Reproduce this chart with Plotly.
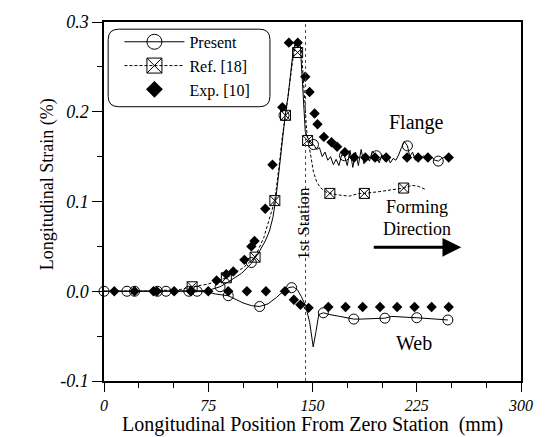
import plotly.graph_objects as go

FONT = "Liberation Serif, Times New Roman, serif"

# ---------------- data ----------------
# Present (FEM) - flange, line
present_flange_x = [-5.5, 0, 20, 40, 60, 70, 75, 80, 83.5, 90, 95, 99, 106, 112, 116, 119, 121.5,
                    123.6, 126, 128, 130.5, 132.5, 134.2, 136.1, 137.7, 139.5, 141.3, 142.5, 143.7,
                    144.8, 147.2, 150.7, 153, 155, 157, 159, 161, 163, 165, 167, 169, 171, 173, 175,
                    177, 179, 181, 183, 185, 187, 189, 191, 193, 196, 198, 200, 202, 204, 206, 208,
                    210, 212, 214, 216, 218.3, 220, 222, 224, 226, 228, 230, 233, 236, 238, 240.5,
                    243, 246, 249]
present_flange_y = [0, 0, 0, 0, 0, 0.0005, 0.001, 0.003, 0.005, 0.011, 0.016, 0.020, 0.031, 0.045,
                    0.056, 0.067, 0.082, 0.103, 0.135, 0.165, 0.198, 0.218, 0.240, 0.268, 0.277,
                    0.279, 0.272, 0.236, 0.200, 0.178, 0.169, 0.1635, 0.158, 0.160, 0.150, 0.155,
                    0.146, 0.150, 0.141, 0.147, 0.140, 0.152, 0.151, 0.140, 0.157, 0.138, 0.155,
                    0.140, 0.158, 0.142, 0.150, 0.145, 0.156, 0.151, 0.143, 0.152, 0.145, 0.150,
                    0.143, 0.148, 0.146, 0.152, 0.160, 0.167, 0.162, 0.150, 0.155, 0.146, 0.152,
                    0.148, 0.151, 0.146, 0.149, 0.146, 0.145, 0.148, 0.150, 0.149]
present_flange_mx = [-5.5, 16.5, 38.5, 61, 83.5, 106, 129.5, 150.7, 173, 196, 218.3, 240.5]
present_flange_my = [0, 0, 0, 0, 0.005, 0.032, 0.196, 0.1635, 0.151, 0.151, 0.162, 0.145]

# Present (FEM) - web, line
present_web_x = [0, 20, 40, 60, 67, 75, 80, 89.4, 95, 100, 106, 112, 118, 124, 129, 133, 136, 139,
                 142, 145, 148, 150.5, 152.5, 154.5, 157.8, 162.5, 169.6, 175, 179.7, 185, 190.8,
                 196, 202.1, 207, 212, 218, 225, 230, 235, 241, 247.4]
present_web_y = [0, 0, 0, 0, 0, -0.001, -0.003, -0.005, -0.009, -0.013, -0.016, -0.017, -0.014,
                 -0.007, 0.0, 0.004, 0.005, 0.002, -0.006, -0.016, -0.035, -0.062, -0.045, -0.026,
                 -0.024, -0.026, -0.028, -0.030, -0.031, -0.031, -0.0306, -0.030, -0.030, -0.028,
                 -0.0287, -0.029, -0.0295, -0.030, -0.031, -0.031, -0.032]
present_web_mx = [0, 22, 44.6, 67, 89.4, 112, 135, 157.8, 179.7, 202.1, 225, 247.4]
present_web_my = [0, 0, 0, 0, -0.005, -0.017, 0.004, -0.024, -0.031, -0.030, -0.0295, -0.032]

# Ref. [18] - flange
ref_x = [0, 30, 55, 63.4, 75, 88, 100, 108.7, 115, 120, 122.9, 126, 128.5, 130.6, 133, 136, 138,
         140, 142, 143.5, 144.5, 145.5, 146.5, 148.3, 150.7, 153, 155.4, 159, 162.5, 170, 176.6,
         183.5, 187.3, 198, 209, 215.6, 221.5, 226, 232]
ref_y = [0, 0, 0.002, 0.005, 0.008, 0.015, 0.026, 0.038, 0.060, 0.085, 0.101, 0.140, 0.175, 0.196,
         0.225, 0.260, 0.275, 0.278, 0.270, 0.240, 0.210, 0.185, 0.168, 0.155, 0.133, 0.122, 0.116,
         0.111, 0.109, 0.107, 0.106, 0.109, 0.109, 0.111, 0.113, 0.115, 0.118, 0.117, 0.113]
ref_mx = [63.4, 88, 108.7, 122.9, 130.6, 139.3, 146.5, 162.5, 187.3, 215.6]
ref_my = [0.005, 0.015, 0.038, 0.101, 0.196, 0.266, 0.168, 0.109, 0.109, 0.115]

# Exp. [10] - flange
exp_flange_x = [38, 81, 88, 93, 101, 106, 108.3, 116, 121.2, 128.3, 133, 139.4, 144.8, 147.9, 151.5,
                153.6, 158.2, 163.7, 167.7, 173.3, 180, 188, 195, 203, 218, 226, 233, 248]
exp_flange_y = [0, 0.012, 0.019, 0.022, 0.035, 0.050, 0.056, 0.092, 0.141, 0.205, 0.277, 0.277,
                0.239, 0.222, 0.198, 0.186, 0.172, 0.166, 0.161, 0.155, 0.149, 0.149, 0.149, 0.149,
                0.149, 0.149, 0.149, 0.149]

# Exp. [10] - web
exp_web_x = [7.4, 22, 35.6, 50.5, 62.5, 75, 89.4, 102.8, 116.5, 130.2, 136.6, 141.3, 147.2, 161.4,
             173.8, 186.1, 198.6, 210.9, 223.4, 235.7, 248]
exp_web_y = [0, 0, 0, 0, 0, 0, 0, 0, 0, 0, -0.0095, -0.015, -0.0185, -0.0175, -0.0175, -0.0175,
             -0.0175, -0.0175, -0.0175, -0.0175, -0.0175]

station_x = 145
x_ticks = [0, 75, 150, 225, 300]
y_ticks = [-0.1, 0.0, 0.1, 0.2, 0.3]
y_ticktext = ["-0.1", "0.0", "0.1", "0.2", "0.3"]

# ---------------- figure ----------------
fig = go.Figure()
blk = "black"

# lines
fig.add_trace(go.Scatter(x=ref_x, y=ref_y, mode="lines", showlegend=False,
                         line=dict(color=blk, width=1, dash="3px,2px")))
fig.add_trace(go.Scatter(x=present_flange_x, y=present_flange_y, mode="lines", showlegend=False,
                         line=dict(color=blk, width=1)))
fig.add_trace(go.Scatter(x=present_web_x, y=present_web_y, mode="lines", showlegend=False,
                         line=dict(color=blk, width=1)))

# markers
circ = dict(symbol="circle-open", size=10, color=blk, line=dict(width=1, color=blk))
box = dict(symbol="square-x-open", size=10, color=blk, line=dict(width=1, color=blk))
dia = dict(symbol="diamond", size=8, color=blk, line=dict(width=0))
fig.add_trace(go.Scatter(x=present_flange_mx, y=present_flange_my, mode="markers", marker=circ,
                         showlegend=False, cliponaxis=False))
fig.add_trace(go.Scatter(x=present_web_mx, y=present_web_my, mode="markers", marker=circ,
                         showlegend=False, cliponaxis=False))
fig.add_trace(go.Scatter(x=ref_mx, y=ref_my, mode="markers", marker=box, showlegend=False))
fig.add_trace(go.Scatter(x=exp_flange_x, y=exp_flange_y, mode="markers", marker=dia,
                         showlegend=False))
fig.add_trace(go.Scatter(x=exp_web_x, y=exp_web_y, mode="markers", marker=dia, showlegend=False))

# legend entries
fig.add_trace(go.Scatter(x=[None], y=[None], mode="lines+markers", name="Present",
                         line=dict(color=blk, width=1),
                         marker=dict(symbol="circle-open", size=15, color=blk, line=dict(width=1))))
fig.add_trace(go.Scatter(x=[None], y=[None], mode="lines+markers", name="Ref. [18]",
                         line=dict(color=blk, width=1, dash="3px,2px"),
                         marker=dict(symbol="square-x-open", size=15, color=blk, line=dict(width=1))))
fig.add_trace(go.Scatter(x=[None], y=[None], mode="markers", name="Exp. [10]",
                         marker=dict(symbol="diamond", size=13, color=blk)))

fig.update_xaxes(range=[0, 300], tickvals=x_ticks, ticks="outside", ticklen=9, tickwidth=1,
                 tickcolor=blk, showline=True, linecolor=blk, linewidth=1.5, mirror=True,
                 showgrid=False, zeroline=False,
                 tickfont=dict(family=FONT, size=16, color=blk, style="italic"),
                 minor=dict(ticks="outside", ticklen=5, dtick=25, tick0=0, tickcolor=blk,
                            showgrid=False))
fig.update_yaxes(range=[-0.1, 0.3], tickvals=y_ticks, ticktext=y_ticktext, ticks="outside",
                 ticklen=10, tickwidth=1, tickcolor=blk, showline=True, linecolor=blk,
                 linewidth=1.5, mirror=True, showgrid=False, zeroline=False,
                 tickfont=dict(family=FONT, size=18, color=blk, style="italic"),
                 minor=dict(ticks="outside", ticklen=5, dtick=0.05, tick0=0, tickcolor=blk,
                            showgrid=False))

fig.add_shape(type="line", x0=station_x, x1=station_x, y0=0, y1=1, xref="x", yref="paper",
              line=dict(color="#444", width=1, dash="dot"))

# rounded legend frame
x0, x1, y0, y1, r = 0.010, 0.398, 0.764, 0.980, 0.025
ry = r * 423.3 / 365
fig.add_shape(type="path", xref="paper", yref="paper", line=dict(color=blk, width=1),
              path=(f"M{x0+r},{y1} L{x1-r},{y1} Q{x1},{y1} {x1},{y1-ry} L{x1},{y0+ry} "
                    f"Q{x1},{y0} {x1-r},{y0} L{x0+r},{y0} Q{x0},{y0} {x0},{y0+ry} "
                    f"L{x0},{y1-ry} Q{x0},{y1} {x0+r},{y1} Z"))

txt = dict(family=FONT, size=20, color=blk)
txt2 = dict(family=FONT, size=18, color=blk)
fig.add_annotation(x=225, y=0.188, text="Flange", showarrow=False, font=txt)
fig.add_annotation(x=225.5, y=0.094, text="Forming", showarrow=False, font=txt2)
fig.add_annotation(x=225.5, y=0.069, text="Direction", showarrow=False, font=txt2)
fig.add_annotation(x=222.7, y=-0.058, text="Web", showarrow=False, font=txt)
fig.add_annotation(x=143, y=0.076, text="1st Station", textangle=-90, showarrow=False,
                   font=dict(family=FONT, size=17, color=blk))
fig.add_annotation(x=257, y=0.049, ax=193, ay=0.049, xref="x", yref="y", axref="x", ayref="y",
                   text="", showarrow=True, arrowhead=2, arrowsize=1.25, arrowwidth=3,
                   arrowcolor=blk)

# axis titles
fig.add_annotation(xref="paper", yref="paper", x=0.5, y=-0.121, yanchor="middle",
                   text="Longitudinal Position From Zero Station\u00a0 (mm)", showarrow=False,
                   font=dict(family=FONT, size=20, color=blk))
fig.add_annotation(xref="paper", yref="paper", x=-0.167, y=0.548, textangle=-90,
                   text="Longitudinal Strain (%)", showarrow=False,
                   font=dict(family=FONT, size=18, color=blk))

fig.update_layout(
    width=545, height=437,
    margin=dict(l=104, r=18, t=16, b=56),
    paper_bgcolor="white", plot_bgcolor="white",
    font=dict(family=FONT, color=blk),
    legend=dict(x=0.037, y=0.992, xanchor="left", yanchor="top", bgcolor="rgba(0,0,0,0)",
                borderwidth=0, font=dict(family=FONT, size=16, color=blk), itemwidth=60,
                tracegroupgap=0),
)

fig.write_html("out.html", config={"displayModeBar": False},
               post_script="document.body.style.margin='0';document.body.style.overflow='hidden';")
